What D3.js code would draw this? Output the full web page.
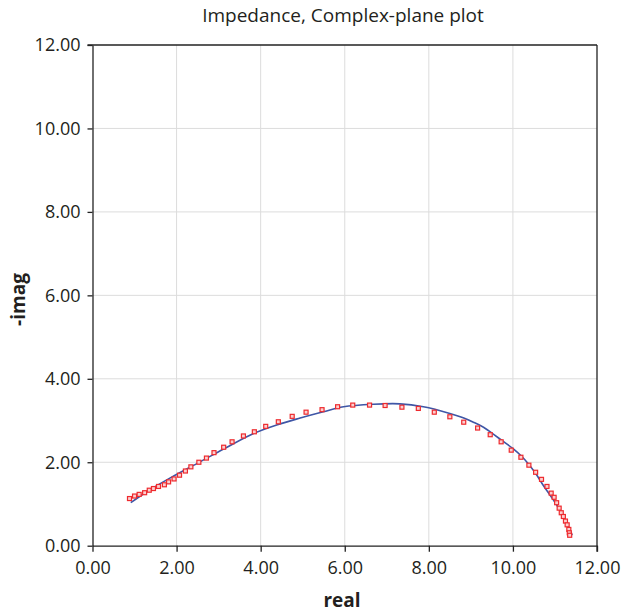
<!DOCTYPE html>
<html><head><meta charset="utf-8">
<script src="https://cdn.jsdelivr.net/npm/d3@7"></script>
<style>body{margin:0;background:#fff}svg{display:block}</style>
</head><body>
<svg id="c" width="622" height="614"></svg>
<script>
const title = "Impedance, Complex-plane plot";
const xLabel = "real";
const yLabel = "-imag";
const tickValues = [0, 2, 4, 6, 8, 10, 12];

// measured points (red squares)
const measReal = [0.88,1.00,1.11,1.24,1.35,1.45,1.57,1.71,1.81,1.94,2.07,2.21,2.34,2.53,2.71,2.89,3.12,3.32,3.59,3.85,4.12,4.42,4.75,5.08,5.46,5.83,6.19,6.59,6.96,7.36,7.75,8.13,8.50,8.83,9.16,9.46,9.72,9.96,10.19,10.38,10.54,10.68,10.81,10.91,10.98,11.04,11.10,11.15,11.20,11.25,11.29,11.33,11.34,11.35];
const measImag = [1.13,1.19,1.23,1.27,1.33,1.37,1.42,1.46,1.53,1.60,1.69,1.79,1.89,2.00,2.10,2.23,2.36,2.49,2.63,2.73,2.86,2.97,3.10,3.20,3.26,3.33,3.37,3.37,3.36,3.32,3.29,3.20,3.09,2.96,2.82,2.66,2.49,2.29,2.12,1.93,1.76,1.59,1.42,1.26,1.16,1.03,0.90,0.79,0.70,0.59,0.50,0.39,0.31,0.25];

// fitted curve (blue line)
const fitReal = [0.91,1.30,1.84,2.56,3.20,3.83,4.40,4.94,5.49,5.97,6.68,7.31,7.87,8.50,8.80,9.06,9.30,9.55,9.81,10.01,10.20,10.37,10.55,10.72,10.96,11.16,11.32,11.41];
const fitImag = [1.03,1.30,1.62,2.01,2.36,2.69,2.90,3.06,3.21,3.33,3.39,3.40,3.33,3.17,3.07,2.96,2.84,2.66,2.47,2.32,2.15,1.96,1.72,1.45,1.10,0.78,0.46,0.25];

const svg = d3.select("#c");
const L = 92.5, R = 597, T = 45, B = 545.7;
const x = d3.scaleLinear().domain([0, 12]).range([L, R]);
const y = d3.scaleLinear().domain([0, 12]).range([B, T]);
const font = "'Open Sans', 'Noto Sans', sans-serif";

// grid
const g = svg.append("g");
g.selectAll(".vg").data(tickValues.slice(1, -1)).join("line")
  .attr("x1", d => x(d)).attr("x2", d => x(d)).attr("y1", T).attr("y2", B)
  .attr("stroke", "#dcdcdc").attr("stroke-width", 1);
g.selectAll(".hg").data(tickValues.slice(1, -1)).join("line")
  .attr("y1", d => y(d)).attr("y2", d => y(d)).attr("x1", L).attr("x2", R)
  .attr("stroke", "#dcdcdc").attr("stroke-width", 1);

// frame
svg.append("line").attr("x1", L - 5).attr("x2", R).attr("y1", T).attr("y2", T).attr("stroke", "#222").attr("stroke-width", 1.3);
svg.append("line").attr("x1", R).attr("x2", R).attr("y1", T).attr("y2", B + 6).attr("stroke", "#222").attr("stroke-width", 1.3);

// axes
const xAxis = svg.append("g").attr("transform", `translate(0,${B})`)
  .call(d3.axisBottom(x).tickValues(tickValues).tickFormat(d3.format(".2f")).tickSize(6).tickPadding(10).tickSizeOuter(0));
const yAxis = svg.append("g").attr("transform", `translate(${L},0)`)
  .call(d3.axisLeft(y).tickValues(tickValues).tickFormat(d3.format(".2f")).tickSize(5).tickPadding(7).tickSizeOuter(0));
[xAxis, yAxis].forEach(a => {
  a.select(".domain").attr("stroke", "#222").attr("stroke-width", 1.3);
  a.selectAll(".tick line").attr("stroke", "#222").attr("stroke-width", 1.3);
  a.selectAll("text").attr("font-family", font).attr("font-size", 18).attr("fill", "#231f20");
});

// fitted line
const fit = fitReal.map((v, i) => [v, fitImag[i]]);
svg.append("path").datum(fit)
  .attr("d", d3.line().x(d => x(d[0])).y(d => y(d[1])).curve(d3.curveCatmullRom))
  .attr("fill", "none").attr("stroke", "#3f56a6").attr("stroke-width", 1.6);

// measured markers
const meas = measReal.map((v, i) => [v, measImag[i]]);
svg.append("g").selectAll("rect").data(meas).join("rect")
  .attr("x", d => x(d[0]) - 2).attr("y", d => y(d[1]) - 2)
  .attr("width", 4).attr("height", 4)
  .attr("fill", "#fbd0d0").attr("stroke", "#ee2a2e").attr("stroke-width", 1.2);

// titles
svg.append("text").attr("x", 343).attr("y", 21.5).attr("text-anchor", "middle")
  .attr("font-family", font).attr("font-size", 19).attr("fill", "#231f20").text(title);
svg.append("text").attr("x", 342).attr("y", 606.5).attr("text-anchor", "middle")
  .attr("font-family", font).attr("font-size", 19).attr("font-weight", "bold").attr("fill", "#231f20").text(xLabel);
svg.append("text").attr("transform", "translate(25,299.5) rotate(-90)").attr("text-anchor", "middle")
  .attr("font-family", font).attr("font-size", 19).attr("font-weight", "bold").attr("fill", "#231f20").text(yLabel);
</script>
</body></html>
